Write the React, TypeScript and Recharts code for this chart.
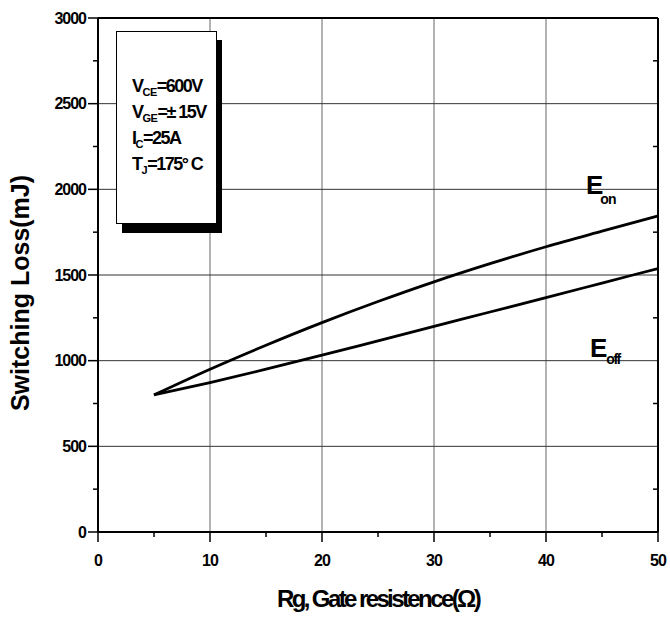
import { LineChart, Line, XAxis, YAxis, ReferenceLine } from "recharts";

// ── Data ──────────────────────────────────────────────────────────────────────

const rg = [5, 10, 15, 20, 25, 30, 35, 40, 45, 50];
const eon = [800, 950, 1090, 1222, 1345, 1460, 1566, 1665, 1756, 1845];
const eoff = [800, 872, 950, 1032, 1116, 1200, 1284, 1368, 1453, 1538];

const xTicks = [0, 5, 10, 15, 20, 25, 30, 35, 40, 45, 50];
const yTicks = [0, 250, 500, 750, 1000, 1250, 1500, 1750, 2000, 2250, 2500, 2750, 3000];
const xGrid = [10, 20, 30, 40];
const yGrid = [500, 1000, 1500, 2000, 2500];

const data = rg.map((r, i) => ({ rg: r, eon: eon[i], eoff: eoff[i] }));

// ── Layout ────────────────────────────────────────────────────────────────────

const W = 670;
const H = 619;
const PLOT_L = 98;
const PLOT_T = 18;
const PLOT_W = 560;
const PLOT_H = 514;
const Y_AXIS_W = 60;
const X_AXIS_H = 40;
const FONT = "'Liberation Sans', Arial, sans-serif";

function YTick({ x, y, payload }: any) {
  const v = payload.value as number;
  const major = v % 500 === 0;
  return (
    <g>
      <line x1={x - (major ? 10 : 5)} x2={x} y1={y} y2={y} stroke="#000" strokeWidth={1.5} />
      {!major && (
        <line x1={x + PLOT_W - 5} x2={x + PLOT_W} y1={y} y2={y} stroke="#000" strokeWidth={1.5} />
      )}
      {major && (
        <text
          x={x - 12}
          y={y}
          dy="0.36em"
          textAnchor="end"
          fontFamily={FONT}
          fontWeight="bold"
          fontSize={16}
          letterSpacing={-1}
          fill="#000"
        >
          {v}
        </text>
      )}
    </g>
  );
}

function XTick({ x, y, payload }: any) {
  const v = payload.value as number;
  const major = v % 10 === 0;
  return (
    <g>
      <line x1={x} x2={x} y1={y} y2={y + (major ? 10 : 5)} stroke="#000" strokeWidth={1.5} />
      {major && (
        <text
          x={x}
          y={y + 34}
          textAnchor="middle"
          fontFamily={FONT}
          fontWeight="bold"
          fontSize={16}
          letterSpacing={-1}
          fill="#000"
        >
          {v}
        </text>
      )}
    </g>
  );
}

function Overlay() {
  const rows = [
    { main: "V", sub: "CE", rest: "=600V", y: 92 },
    { main: "V", sub: "GE", rest: "=± 15V", y: 118 },
    { main: "I", sub: "C", rest: "=25A", y: 144 },
    { main: "T", sub: "J", rest: "=175° C", y: 170 },
  ];
  return (
    <svg
      width={W}
      height={H}
      style={{ position: "absolute", left: 0, top: 0, pointerEvents: "none" }}
      fontFamily={FONT}
      fontWeight="bold"
    >
      {/* conditions box with drop shadow */}
      <rect x={122} y={40} width={100} height={193} fill="#000" />
      <rect x={116.5} y={31.5} width={100} height={192} fill="#fff" stroke="#000" strokeWidth={1} />
      {rows.map((r) => (
        <text key={r.sub} x={132} y={r.y} fontSize={18} letterSpacing={-1.5} fill="#000">
          {r.main}
          <tspan dy={4} fontSize={11} letterSpacing={-0.5}>{r.sub}</tspan>
          <tspan dy={-4}>{r.rest}</tspan>
        </text>
      ))}

      {/* curve labels */}
      <text x={586} y={194} fontSize={26} fill="#000" letterSpacing={-1}>
        E<tspan dx={-2} dy={10} fontSize={14}>on</tspan>
      </text>
      <text x={590} y={357} fontSize={26} fill="#000" letterSpacing={-1}>
        E<tspan dx={0} dy={7} fontSize={14} letterSpacing={-1.5}>off</tspan>
      </text>

      {/* axis titles */}
      <text
        x={29}
        y={293}
        transform="rotate(-90 29 293)"
        textAnchor="middle"
        fontSize={25}
        letterSpacing={0}
        fill="#000"
      >
        Switching Loss(mJ)
      </text>
      <text x={378} y={607} textAnchor="middle" fontSize={24} letterSpacing={-2.6} fill="#000">
        Rg, Gate resistence(Ω)
      </text>
    </svg>
  );
}

export default function App() {
  return (
    <div style={{ position: "relative", width: W, height: H, background: "#fff" }}>
      <style>{`body{margin:0;background:#fff}`}</style>
      <LineChart
        width={W}
        height={H}
        data={data}
        margin={{
          top: PLOT_T,
          right: W - PLOT_L - PLOT_W,
          left: PLOT_L - Y_AXIS_W,
          bottom: H - PLOT_T - PLOT_H - X_AXIS_H,
        }}
      >
        {xGrid.map((v) => (
          <ReferenceLine key={`gx${v}`} x={v} stroke="#666" strokeWidth={1} />
        ))}
        {yGrid.map((v) => (
          <ReferenceLine key={`gy${v}`} y={v} stroke="#333" strokeWidth={1} />
        ))}
        <ReferenceLine y={3000} stroke="#000" strokeWidth={2} />
        <ReferenceLine x={50} stroke="#000" strokeWidth={2} />

        <XAxis
          dataKey="rg"
          type="number"
          domain={[0, 50]}
          ticks={xTicks}
          height={X_AXIS_H}
          tickSize={0}
          tickMargin={0}
          tick={<XTick />}
          axisLine={{ stroke: "#000", strokeWidth: 2 }}
          tickLine={false}
          interval={0}
          allowDataOverflow
        />
        <YAxis
          type="number"
          domain={[0, 3000]}
          ticks={yTicks}
          width={Y_AXIS_W}
          tickSize={0}
          tickMargin={0}
          tick={<YTick />}
          axisLine={{ stroke: "#000", strokeWidth: 2 }}
          tickLine={false}
          interval={0}
          allowDataOverflow
        />

        <Line
          type="monotone"
          dataKey="eon"
          stroke="#000"
          strokeWidth={2.8}
          dot={false}
          isAnimationActive={false}
        />
        <Line
          type="monotone"
          dataKey="eoff"
          stroke="#000"
          strokeWidth={2.8}
          dot={false}
          isAnimationActive={false}
        />
      </LineChart>
      <Overlay />
    </div>
  );
}
